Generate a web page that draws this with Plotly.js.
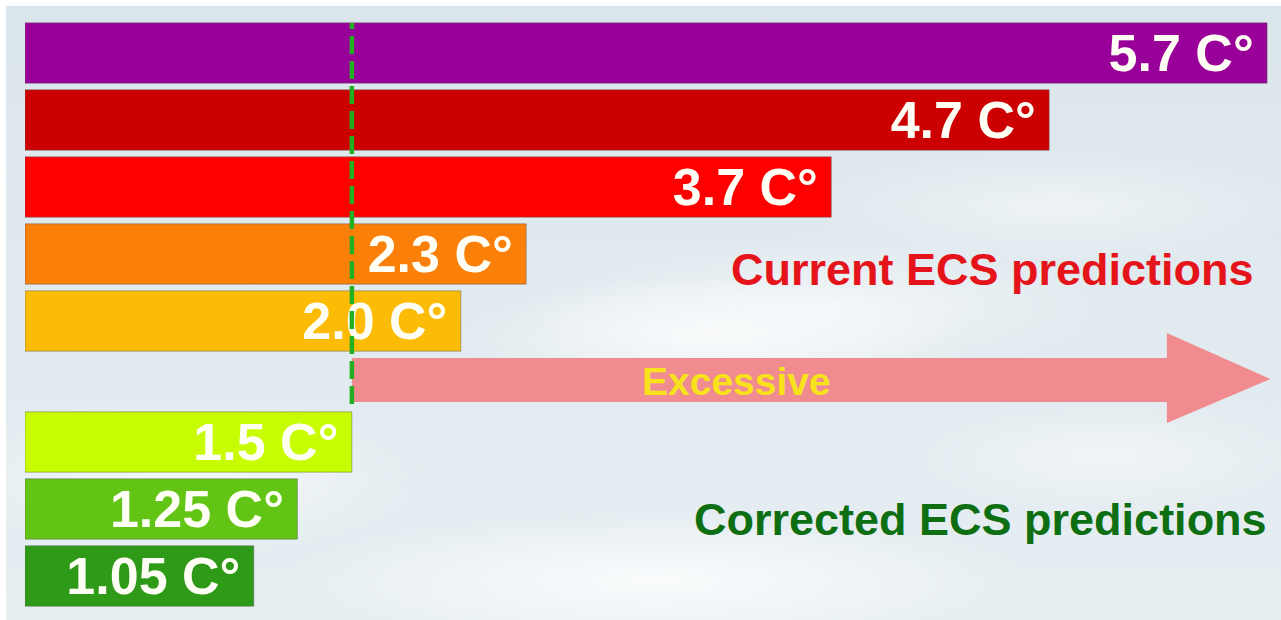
<!DOCTYPE html>
<html>
<head>
<meta charset="utf-8">
<script src="https://cdn.plot.ly/plotly-3.0.1.min.js"></script>
<style>
  html, body { margin: 0; padding: 0; background: #ffffff; width: 1281px; height: 620px; overflow: hidden; }
  #bg {
    position: absolute; left: 6px; top: 6px; width: 1275px; height: 614px;
    background:
      radial-gradient(ellipse 260px 60px at 700px 330px, rgba(255,255,255,0.75), rgba(255,255,255,0) 100%),
      radial-gradient(ellipse 300px 70px at 820px 300px, rgba(255,255,255,0.55), rgba(255,255,255,0) 100%),
      radial-gradient(ellipse 380px 70px at 650px 575px, rgba(255,255,255,0.8), rgba(255,255,255,0) 100%),
      radial-gradient(ellipse 250px 80px at 180px 470px, rgba(255,255,255,0.6), rgba(255,255,255,0) 100%),
      radial-gradient(ellipse 260px 60px at 1050px 200px, rgba(255,255,255,0.45), rgba(255,255,255,0) 100%),
      radial-gradient(ellipse 220px 60px at 1100px 450px, rgba(255,255,255,0.45), rgba(255,255,255,0) 100%),
      linear-gradient(180deg, #dbe6ec 0%, #e1eaef 50%, #e6eef2 100%);
  }
  #chart { position: absolute; left: 0; top: 0; width: 1281px; height: 620px; }
</style>
</head>
<body>
<div id="bg"></div>
<div id="chart"></div>
<script>
// ---- data ----
const currentLabels = ['5.7 C°', '4.7 C°', '3.7 C°', '2.3 C°', '2.0 C°'];
const currentValues = [5.7, 4.7, 3.7, 2.3, 2.0];
const correctedLabels = ['1.5 C°', '1.25 C°', '1.05 C°'];
const correctedValues = [1.5, 1.25, 1.05];
const threshold = 1.5;
const currentTitle = 'Current ECS predictions';
const correctedTitle = 'Corrected ECS predictions';
const arrowLabel = 'Excessive';

// ---- styles ----
const currentColors = ['#990099', '#cc0000', '#ff0000', '#fb8009', '#fcbc06'];
const correctedColors = ['#c8fc02', '#62c414', '#2f9a17'];

const W = 1281, H = 620, ML = 25, MR = 3;
const py = p => 1 - p / H;               // pixel y -> paper y
const labelFont = { family: 'Liberation Sans, Arial, sans-serif', size: 52, color: '#fffff6' };
const pad = '\u2009';

const barCommon = {
  type: 'bar', orientation: 'h',
  textposition: 'inside', insidetextanchor: 'end', textangle: 0,
  constraintext: 'none', cliponaxis: false,
  textfont: labelFont, hoverinfo: 'skip'
};

const traces = [
  Object.assign({}, barCommon, {
    x: currentValues, y: currentLabels,
    text: currentLabels.map(t => '<b>' + t + '</b>' + pad),
    marker: { color: currentColors, line: { color: 'rgba(90,90,90,0.45)', width: 1 } },
    xaxis: 'x', yaxis: 'y'
  }),
  Object.assign({}, barCommon, {
    x: correctedValues, y: correctedLabels,
    text: correctedLabels.map(t => '<b>' + t + '</b>' + pad),
    marker: { color: correctedColors, line: { color: 'rgba(90,90,90,0.45)', width: 1 } },
    xaxis: 'x', yaxis: 'y2'
  })
];

// arrow geometry (x in data units, y in pixels)
const arrowEnd = 5.715, headBase = 5.24;
const bodyTop = 358, bodyBot = 402, headTop = 333, headBot = 423, tipY = 379;
const arrowPath = 'M ' + threshold + ' ' + py(bodyTop) +
  ' L ' + headBase + ' ' + py(bodyTop) +
  ' L ' + headBase + ' ' + py(headTop) +
  ' L ' + arrowEnd + ' ' + py(tipY) +
  ' L ' + headBase + ' ' + py(headBot) +
  ' L ' + headBase + ' ' + py(bodyBot) +
  ' L ' + threshold + ' ' + py(bodyBot) + ' Z';

const layout = {
  width: W, height: H,
  margin: { l: ML, r: MR, t: 0, b: 0, pad: 0 },
  paper_bgcolor: 'rgba(0,0,0,0)', plot_bgcolor: 'rgba(0,0,0,0)',
  showlegend: false, bargap: 0.1,
  xaxis: { range: [0, 5.75], visible: false, fixedrange: true, anchor: 'y2' },
  yaxis: { domain: [py(354.5), py(19.5)], range: [4.5, -0.5], type: 'category',
           visible: false, fixedrange: true },
  yaxis2: { domain: [py(609.5), py(408.5)], range: [2.5, -0.5], type: 'category',
            visible: false, fixedrange: true },
  shapes: [
    { type: 'path', xref: 'x', yref: 'paper', path: arrowPath,
      fillcolor: '#f08b8f', line: { width: 0 }, layer: 'below' },
    { type: 'line', xref: 'x', yref: 'paper', x0: threshold, x1: threshold,
      y0: py(404), y1: py(23), line: { color: '#22b022', width: 4.5, dash: '18px,7px' }, layer: 'above' }
  ],
  annotations: [
    { xref: 'paper', yref: 'paper', x: (1256 - ML) / (W - ML - MR), y: py(269),
      xanchor: 'right', yanchor: 'middle', showarrow: false,
      text: '<b>' + currentTitle + '</b>',
      font: { family: 'Liberation Sans, Arial, sans-serif', size: 45, color: '#e5141b' } },
    { xref: 'paper', yref: 'paper', x: (1269 - ML) / (W - ML - MR), y: py(519),
      xanchor: 'right', yanchor: 'middle', showarrow: false,
      text: '<b>' + correctedTitle + '</b>',
      font: { family: 'Liberation Sans, Arial, sans-serif', size: 45, color: '#0d6e12' } },
    { xref: 'paper', yref: 'paper', x: (736 - ML) / (W - ML - MR), y: py(381),
      xanchor: 'center', yanchor: 'middle', showarrow: false,
      text: '<b>' + arrowLabel + '</b>',
      font: { family: 'Liberation Sans, Arial, sans-serif', size: 39, color: '#f7e21c' } }
  ]
};

Plotly.newPlot('chart', traces, layout, { displayModeBar: false, staticPlot: true });
</script>
</body>
</html>
